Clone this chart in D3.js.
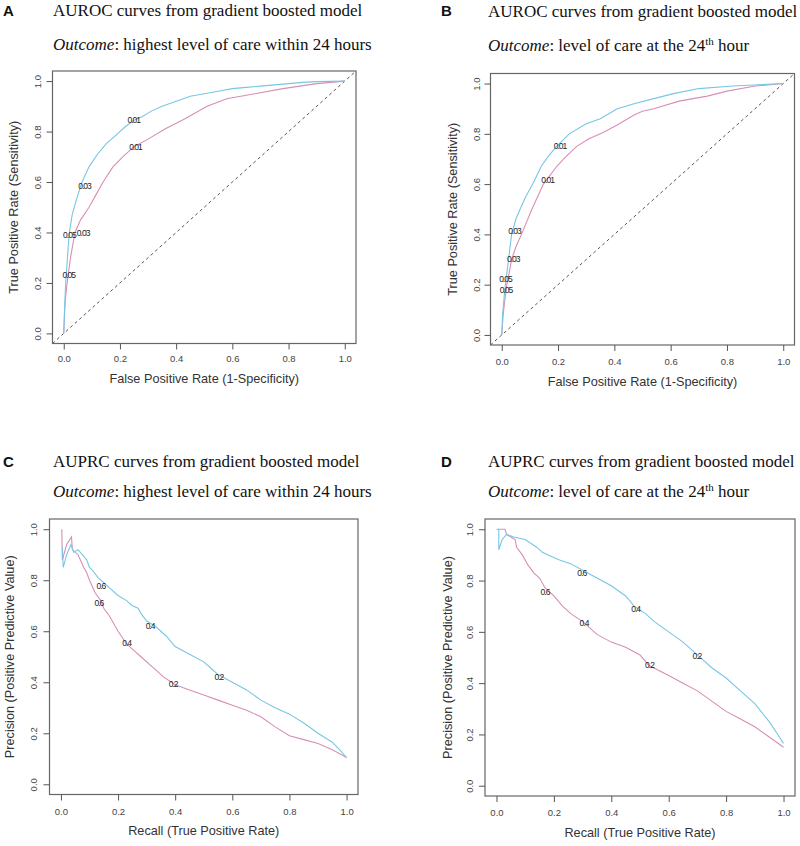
<!DOCTYPE html>
<html><head><meta charset="utf-8">
<script src="https://cdn.jsdelivr.net/npm/d3@7"></script>
<style>body{margin:0;background:#fff}</style>
</head><body>
<svg id="c" width="800" height="846"></svg>
<script>
// ---------- data ----------
const tickValues = [0, 0.2, 0.4, 0.6, 0.8, 1.0];
const tickLabels = ["0.0", "0.2", "0.4", "0.6", "0.8", "1.0"];
const panelLetters = ["A", "B", "C", "D"];
const panelTitles = ["AUROC curves from gradient boosted model", "AUROC curves from gradient boosted model",
                     "AUPRC curves from gradient boosted model", "AUPRC curves from gradient boosted model"];
const outcomeTexts = ["highest level of care within 24 hours", "level of care at the 24",
                      "highest level of care within 24 hours", "level of care at the 24"];
const xTitles = ["False Positive Rate (1-Specificity)", "False Positive Rate (1-Specificity)",
                 "Recall (True Positive Rate)", "Recall (True Positive Rate)"];
const yTitles = ["True Positive Rate (Sensitivity)", "True Positive Rate (Sensitivity)",
                 "Precision (Positive Predictive Value)", "Precision (Positive Predictive Value)"];

const rocA_blue = [[0,0],[0.003,0.1],[0.006,0.18],[0.01,0.25],[0.015,0.33],[0.02,0.4],[0.03,0.47],[0.045,0.53],[0.065,0.6],[0.09,0.66],[0.12,0.71],[0.15,0.75],[0.19,0.79],[0.22,0.82],[0.25,0.845],[0.28,0.86],[0.31,0.88],[0.35,0.9],[0.4,0.92],[0.45,0.94],[0.5,0.95],[0.55,0.96],[0.6,0.97],[0.65,0.975],[0.7,0.98],[0.75,0.985],[0.8,0.99],[0.85,0.995],[0.9,0.998],[1,1]];
const rocA_pink = [[0,0],[0.003,0.08],[0.006,0.14],[0.012,0.2],[0.024,0.3],[0.04,0.4],[0.06,0.45],[0.09,0.5],[0.115,0.55],[0.14,0.6],[0.175,0.66],[0.21,0.7],[0.25,0.74],[0.3,0.77],[0.36,0.81],[0.43,0.85],[0.51,0.9],[0.58,0.93],[0.68,0.95],[0.78,0.97],[0.9,0.99],[1,1]];
const rocB_blue = [[0,0],[0.003,0.08],[0.006,0.12],[0.01,0.17],[0.015,0.22],[0.024,0.3],[0.035,0.4],[0.05,0.46],[0.065,0.5],[0.085,0.55],[0.11,0.6],[0.14,0.67],[0.165,0.71],[0.195,0.75],[0.24,0.8],[0.3,0.84],[0.35,0.86],[0.41,0.9],[0.47,0.92],[0.54,0.94],[0.61,0.96],[0.7,0.98],[0.82,0.99],[1,1]];
const rocB_pink = [[0,0],[0.005,0.08],[0.01,0.13],[0.018,0.2],[0.035,0.3],[0.05,0.35],[0.07,0.4],[0.107,0.5],[0.148,0.6],[0.195,0.67],[0.22,0.7],[0.266,0.75],[0.31,0.78],[0.36,0.805],[0.41,0.835],[0.44,0.855],[0.47,0.875],[0.5,0.89],[0.54,0.9],[0.63,0.93],[0.73,0.95],[0.8,0.97],[0.9,0.99],[1,1]];
const prC_blue = [[0.005,0.93],[0.008,0.85],[0.02,0.9],[0.035,0.94],[0.045,0.91],[0.06,0.92],[0.075,0.9],[0.09,0.88],[0.1,0.85],[0.11,0.84],[0.13,0.81],[0.15,0.79],[0.17,0.77],[0.2,0.74],[0.23,0.72],[0.25,0.7],[0.27,0.69],[0.28,0.67],[0.3,0.64],[0.33,0.62],[0.35,0.6],[0.37,0.58],[0.4,0.54],[0.45,0.51],[0.5,0.48],[0.53,0.45],[0.55,0.43],[0.6,0.4],[0.65,0.37],[0.7,0.33],[0.75,0.3],[0.8,0.275],[0.85,0.24],[0.9,0.2],[0.95,0.165],[0.98,0.13],[1,0.105]];
const prC_pink = [[0.003,1.0],[0.005,0.88],[0.02,0.94],[0.037,0.97],[0.04,0.92],[0.06,0.9],[0.08,0.85],[0.09,0.83],[0.1,0.8],[0.12,0.75],[0.14,0.72],[0.15,0.69],[0.17,0.66],[0.2,0.6],[0.23,0.55],[0.26,0.52],[0.28,0.5],[0.32,0.46],[0.36,0.42],[0.4,0.39],[0.45,0.37],[0.5,0.35],[0.55,0.33],[0.6,0.31],[0.65,0.29],[0.7,0.265],[0.75,0.225],[0.8,0.19],[0.85,0.175],[0.9,0.16],[0.95,0.135],[1,0.105]];
const prD_blue = [[0,1],[0.008,1],[0.008,0.92],[0.02,0.96],[0.035,0.98],[0.06,0.97],[0.1,0.96],[0.14,0.93],[0.16,0.91],[0.18,0.9],[0.22,0.88],[0.26,0.865],[0.3,0.84],[0.35,0.81],[0.4,0.78],[0.45,0.74],[0.48,0.7],[0.52,0.67],[0.55,0.64],[0.6,0.6],[0.65,0.56],[0.7,0.51],[0.75,0.46],[0.8,0.42],[0.85,0.37],[0.9,0.32],[0.95,0.25],[0.98,0.2],[1,0.165]];
const prD_pink = [[0.008,1],[0.03,1],[0.035,0.98],[0.05,0.97],[0.065,0.96],[0.07,0.93],[0.09,0.9],[0.11,0.86],[0.13,0.83],[0.15,0.81],[0.17,0.77],[0.2,0.74],[0.23,0.7],[0.26,0.67],[0.3,0.64],[0.35,0.59],[0.4,0.56],[0.45,0.54],[0.5,0.51],[0.53,0.47],[0.6,0.43],[0.65,0.4],[0.7,0.37],[0.75,0.33],[0.8,0.29],[0.85,0.26],[0.9,0.23],[0.95,0.19],[1,0.15]];

const cutA_blue = [["0.01",0.249,0.844],["0.03",0.074,0.585],["0.05",0.02,0.39]];
const cutA_pink = [["0.01",0.255,0.739],["0.03",0.069,0.396],["0.05",0.018,0.232]];
const cutB_blue = [["0.01",0.207,0.752],["0.03",0.045,0.415],["0.05",0.013,0.222]];
const cutB_pink = [["0.01",0.163,0.618],["0.03",0.041,0.302],["0.05",0.015,0.179]];
const cutC_blue = [["0.6",0.14,0.778],["0.4",0.312,0.62],["0.2",0.553,0.42]];
const cutC_pink = [["0.6",0.133,0.71],["0.4",0.23,0.553],["0.2",0.393,0.392]];
const cutD_blue = [["0.6",0.297,0.83],["0.4",0.485,0.688],["0.2",0.698,0.504]];
const cutD_pink = [["0.6",0.169,0.755],["0.4",0.305,0.634],["0.2",0.533,0.471]];

// ---------- layout ----------
const BLUE = "#78c6e5", PINK = "#d78fb6";
const panels = [
  {box:[52.5,356,71,343.5], titleX:53, letterX:3, titleY:16, subY:50, yTickX:38, xTickY:359, yTitleX:14, xTitleY:379,
   blue:rocA_blue, pink:rocA_pink, cb:cutA_blue, cp:cutA_pink, diag:true, sup:false},
  {box:[490.5,794.5,73.5,345], titleX:488, letterX:441, titleY:16.5, subY:50.5, yTickX:476.5, xTickY:361.5, yTitleX:453, xTitleY:381.5,
   blue:rocB_blue, pink:rocB_pink, cb:cutB_blue, cp:cutB_pink, diag:true, sup:true},
  {box:[49.5,358,519,794.5], titleX:53, letterX:3, titleY:467, subY:497, yTickX:33.3, xTickY:811.5, yTitleX:9.5, xTitleY:831,
   blue:prC_blue, pink:prC_pink, cb:cutC_blue, cp:cutC_pink, diag:false, sup:false},
  {box:[485,795,519,796], titleX:488, letterX:441, titleY:467, subY:497, yTickX:470, xTickY:812.5, yTitleX:447.5, xTitleY:833,
   blue:prD_blue, pink:prD_pink, cb:cutD_blue, cp:cutD_pink, diag:false, sup:true}
];

const svg = d3.select("#c");
const SANS = "'Liberation Sans', Arial, sans-serif";
const SERIF = "'Liberation Serif', 'Times New Roman', serif";

panels.forEach((p, i) => {
  const [L, R, T, B] = p.box;
  const x = d3.scaleLinear().domain([-0.04, 1.04]).range([L, R]);
  const y = d3.scaleLinear().domain([-0.04, 1.04]).range([B, T]);
  const g = svg.append("g");

  // headings
  g.append("text").attr("x", p.letterX).attr("y", p.titleY - 0.5)
    .attr("font-family", SANS).attr("font-weight", "bold").attr("font-size", 15)
    .attr("fill", "#111").text(panelLetters[i]);
  g.append("text").attr("x", p.titleX).attr("y", p.titleY)
    .attr("font-family", SERIF).attr("font-size", 17).attr("fill", "#111").text(panelTitles[i]);
  const st = g.append("text").attr("x", p.titleX).attr("y", p.subY)
    .attr("font-family", SERIF).attr("font-size", 17).attr("fill", "#111");
  st.append("tspan").attr("font-style", "italic").text("Outcome");
  st.append("tspan").text(": " + outcomeTexts[i]);
  if (p.sup) {
    st.append("tspan").attr("font-size", 11).attr("dy", -6).text("th");
    st.append("tspan").attr("dy", 6).text(" hour");
  }

  // clip
  const cid = "clip" + i;
  svg.append("clipPath").attr("id", cid).append("rect")
    .attr("x", L).attr("y", T).attr("width", R - L).attr("height", B - T);
  const plot = g.append("g").attr("clip-path", `url(#${cid})`);

  if (p.diag) {
    plot.append("line").attr("x1", x(-0.04)).attr("y1", y(-0.04)).attr("x2", x(1.04)).attr("y2", y(1.04))
      .attr("stroke", "#555").attr("stroke-width", 1).attr("stroke-dasharray", "3,3");
  }
  const line = d3.line().x(d => x(d[0])).y(d => y(d[1]));
  plot.append("path").datum(p.pink).attr("d", line).attr("fill", "none").attr("stroke", PINK).attr("stroke-width", 1.1);
  plot.append("path").datum(p.blue).attr("d", line).attr("fill", "none").attr("stroke", BLUE).attr("stroke-width", 1.1);

  [...p.cb, ...p.cp].forEach(c => {
    g.append("text").attr("x", x(c[1])).attr("y", y(c[2])).attr("dy", "0.35em")
      .attr("text-anchor", "middle").attr("font-family", SANS).attr("font-size", 8.5)
      .attr("letter-spacing", -1).attr("fill", "#222").text(c[0]);
  });

  // box
  g.append("rect").attr("x", L).attr("y", T).attr("width", R - L).attr("height", B - T)
    .attr("fill", "none").attr("stroke", "#666").attr("stroke-width", 1.2);

  // axes
  const fmt = (d) => tickLabels[tickValues.indexOf(d)];
  const xa = g.append("g").attr("transform", `translate(0,${B})`)
    .call(d3.axisBottom(x).tickValues(tickValues).tickFormat(fmt).tickSize(6));
  xa.select(".domain").remove();
  xa.selectAll("line").attr("stroke", "#555");
  xa.selectAll("text").attr("y", p.xTickY - B).attr("dy", "0.35em")
    .attr("font-family", SANS).attr("font-size", 9.5).attr("fill", "#444");

  const ya = g.append("g").attr("transform", `translate(${L},0)`)
    .call(d3.axisLeft(y).tickValues(tickValues).tickFormat(fmt).tickSize(6));
  ya.select(".domain").remove();
  ya.selectAll("line").attr("stroke", "#555");
  ya.selectAll("text").attr("x", null).attr("dy", "0.35em").attr("text-anchor", "middle")
    .attr("transform", `translate(${p.yTickX - L},0) rotate(-90)`)
    .attr("font-family", SANS).attr("font-size", 9.5).attr("fill", "#444");

  // axis titles
  g.append("text").attr("x", (x(0) + x(1)) / 2).attr("y", p.xTitleY).attr("dy", "0.35em")
    .attr("text-anchor", "middle").attr("font-family", SANS).attr("font-size", 12.7)
    .attr("fill", "#333").text(xTitles[i]);
  g.append("text").attr("transform", `translate(${p.yTitleX},${(y(0) + y(1)) / 2}) rotate(-90)`)
    .attr("dy", "0.35em").attr("text-anchor", "middle").attr("font-family", SANS).attr("font-size", 12.7)
    .attr("fill", "#333").text(yTitles[i]);
});
</script>
</body></html>
